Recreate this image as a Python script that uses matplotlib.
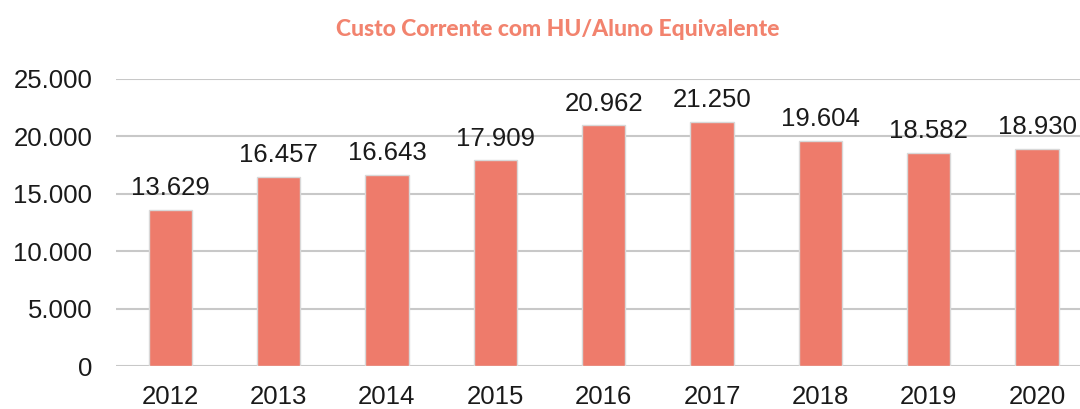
import matplotlib
matplotlib.use('Agg')
import matplotlib.pyplot as plt

# dados do grafico
anos = ['2012', '2013', '2014', '2015', '2016', '2017', '2018', '2019', '2020']
custos = [13629, 16457, 16643, 17909, 20962, 21250, 19604, 18582, 18930]
rotulos = ['13.629', '16.457', '16.643', '17.909', '20.962', '21.250', '19.604', '18.582', '18.930']
ticks_y = [0, 5000, 10000, 15000, 20000, 25000]
ticks_y_txt = ['0', '5.000', '10.000', '15.000', '20.000', '25.000']

plt.rcParams['font.family'] = ['Liberation Sans', 'DejaVu Sans']

fig = plt.figure(figsize=(10.8, 4.09), dpi=100)
ax = fig.add_axes([0.1074, 0.105, 0.903, 0.702])

x = range(len(anos))
ax.bar(x, custos, width=0.4, color='#EE7B6B', edgecolor='#d8d8d8', linewidth=1, zorder=3)

for i, (v, t) in enumerate(zip(custos, rotulos)):
    ax.annotate(t, (i, v), xytext=(0, 7), textcoords='offset points',
                ha='center', va='bottom', fontsize=18.5, color='#1a1a1a', zorder=4)

ax.set_xlim(-0.5, 8.5)
ax.set_ylim(0, 25000)
ax.set_xticks(list(x))
ax.set_xticklabels(anos)
ax.set_yticks(ticks_y)
ax.set_yticklabels(ticks_y_txt)
ax.tick_params(axis='both', length=0, labelsize=18.5, labelcolor='#1a1a1a')
ax.tick_params(axis='x', pad=14)
ax.tick_params(axis='y', pad=17)
ax.grid(True, axis='y', color='#c8c8c8', linewidth=1.5, zorder=0)
for s in ax.spines.values():
    s.set_visible(False)

# titulo em negrito pesado, espacamento entre palavras apertado
fig.text(0.516, 1 - 30 / 409, 'Custo Corrente com HU/Aluno Equivalente',
         ha='center', va='center', fontsize=16.5, fontweight='black',
         color='#F2836E', family=['Lato', 'DejaVu Sans'])

fig.savefig('out.png', dpi=100)
